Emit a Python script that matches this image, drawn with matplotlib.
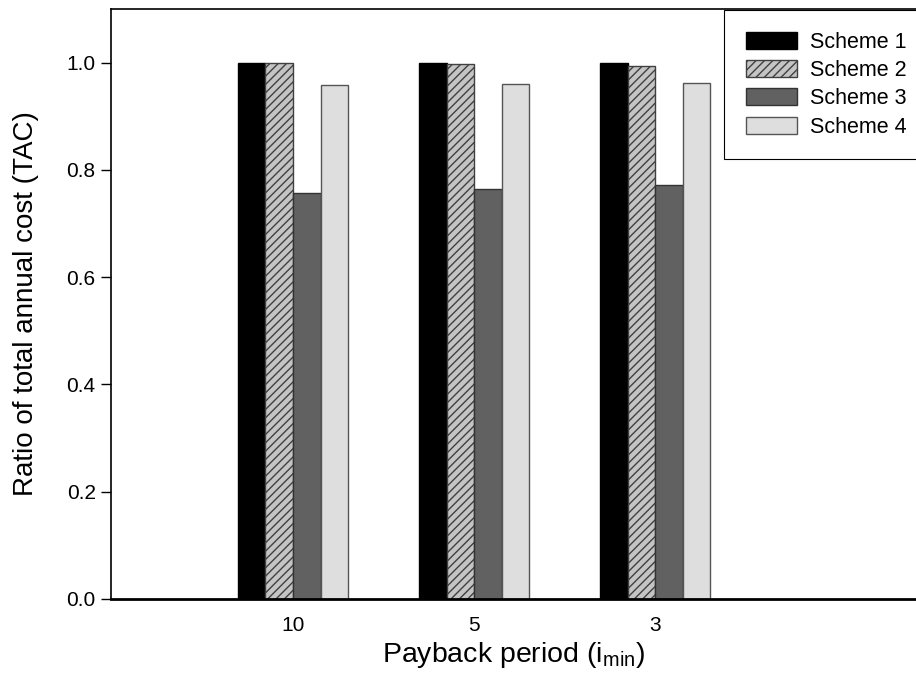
import matplotlib
matplotlib.use("Agg")
import matplotlib.pyplot as plt
import numpy as np

categories = ["10", "5", "3"]
schemes = ["Scheme 1", "Scheme 2", "Scheme 3", "Scheme 4"]
scheme1 = [1.000, 1.000, 1.000]
scheme2 = [1.000, 0.997, 0.993]
scheme3 = [0.757, 0.764, 0.772]
scheme4 = [0.958, 0.960, 0.962]

plt.rcParams['font.family'] = ['Liberation Sans', 'DejaVu Sans']

W, H = 916, 676
fig = plt.figure(figsize=(W / 100, H / 100), dpi=100)
ax = fig.add_axes([111 / W, 1 - 599 / H, 805 / W, 590 / H])

x = np.arange(len(categories))
bw = 0.152
styles = [
    dict(color="#000000", edgecolor="#000000", hatch=None),
    dict(color="#c4c4c4", edgecolor="#404040", hatch="////"),
    dict(color="#616161", edgecolor="#333333", hatch=None),
    dict(color="#dedede", edgecolor="#555555", hatch=None),
]
series = [scheme1, scheme2, scheme3, scheme4]
for i, (vals, st, name) in enumerate(zip(series, styles, schemes)):
    ax.bar(x + (i - 1.5) * bw, vals, width=bw, color=st["color"],
           edgecolor=st["edgecolor"], hatch=st["hatch"], linewidth=1.0,
           label=name)

ax.set_xlim(-1.005, 3.44)
ax.set_ylim(0, 1.1)
ax.set_yticks([0.0, 0.2, 0.4, 0.6, 0.8, 1.0])
ax.set_yticklabels(["0.0", "0.2", "0.4", "0.6", "0.8", "1.0"])
ax.set_xticks(x)
ax.set_xticklabels(categories)
ax.tick_params(axis='x', length=0, pad=12, labelsize=15)
ax.tick_params(axis='y', direction='out', length=7, width=1, labelsize=15, pad=4)
ax.spines['right'].set_visible(False)
for s in ['left', 'top', 'bottom']:
    ax.spines[s].set_linewidth(1.2)
ax.spines['bottom'].set_linewidth(2)

ax.set_xlabel("Payback period (i$_{\\mathregular{min}}$)", fontsize=20.5, labelpad=4)
ax.set_ylabel("Ratio of total annual cost (TAC)", fontsize=20, labelpad=20)

leg = fig.legend(loc='upper left', bbox_to_anchor=(724 / W, 1 - 10 / H),
                 fontsize=15.5, frameon=True, fancybox=False, framealpha=1,
                 edgecolor='black', handlelength=2.4, handleheight=0.85,
                 borderpad=1.0, labelspacing=0.34, handletextpad=0.6,
                 borderaxespad=0)
leg.get_frame().set_linewidth(0.8)

fig.savefig("out.png", dpi=100)
